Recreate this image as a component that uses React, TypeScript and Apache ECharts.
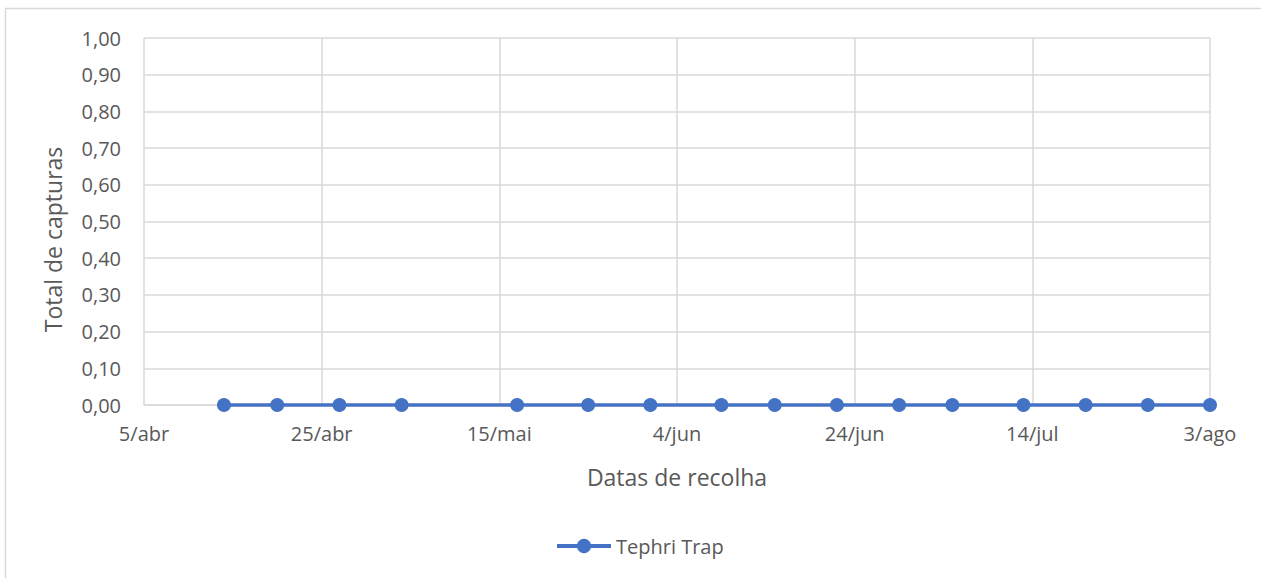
import React, { useEffect, useRef } from "react";
import * as echarts from "echarts";

const axisStart = "2021-04-05";
const axisEnd = "2021-08-03";
const collectionDates = [
  "2021-04-14", "2021-04-20", "2021-04-27", "2021-05-04",
  "2021-05-17", "2021-05-25", "2021-06-01", "2021-06-09",
  "2021-06-15", "2021-06-22", "2021-06-29", "2021-07-05",
  "2021-07-13", "2021-07-20", "2021-07-27", "2021-08-03",
];
const captures = [0, 0, 0, 0, 0, 0, 0, 0, 0, 0, 0, 0, 0, 0, 0, 0];
const monthAbbr = ["jan", "fev", "mar", "abr", "mai", "jun", "jul", "ago", "set", "out", "nov", "dez"];
const seriesName = "Tephri Trap";
const xTitle = "Datas de recolha";
const yTitle = "Total de capturas";

const DAY = 86400000;
const toDays = (s: string) => Math.round((Date.parse(s + "T00:00:00Z") - Date.parse(axisStart + "T00:00:00Z")) / DAY);
const dayLabel = (v: number) => {
  const d = new Date(Date.parse(axisStart + "T00:00:00Z") + v * DAY);
  return `${d.getUTCDate()}/${monthAbbr[d.getUTCMonth()]}`;
};

const FONT = "'Open Sans', sans-serif";
const GREY = "#595959";
const GRID = "#d9d9d9";
const BLUE = "#4472C4";

export default function App() {
  const ref = useRef<HTMLDivElement>(null);
  useEffect(() => {
    if (!ref.current) return;
    const chart = echarts.init(ref.current, null, { renderer: "svg" });
    chart.setOption({
      animation: false,
      backgroundColor: "#ffffff",
      textStyle: { fontFamily: FONT },
      graphic: [
        {
          type: "rect",
          shape: { x: 5.5, y: 8.5, width: 1300, height: 600 },
          style: { fill: "none", stroke: GRID, lineWidth: 1.5 },
          silent: true,
        },
      ],
      grid: { left: 144, right: 51, top: 38, bottom: 173 },
      legend: {
        data: [seriesName],
        left: 555,
        top: 536,
        padding: 0,
        itemWidth: 54,
        itemHeight: 18,
        lineStyle: { width: 4 },
        textStyle: { color: GREY, fontSize: 20, fontFamily: FONT, lineHeight: 20 },
      },
      xAxis: {
        type: "value",
        min: 0,
        max: toDays(axisEnd),
        interval: 20,
        name: xTitle,
        nameLocation: "middle",
        nameGap: 60,
        nameTextStyle: { color: GREY, fontSize: 23, fontFamily: FONT },
        axisLine: { show: true, lineStyle: { color: GRID, width: 1.5 } },
        axisTick: { show: false },
        axisLabel: { color: GREY, fontSize: 20, fontFamily: FONT, margin: 18, formatter: (v: number) => dayLabel(v) },
        splitLine: { show: true, lineStyle: { color: GRID, width: 1.5 } },
      },
      yAxis: {
        type: "value",
        min: 0,
        max: 1,
        interval: 0.1,
        name: yTitle,
        nameLocation: "middle",
        nameGap: 80,
        nameTextStyle: { color: GREY, fontSize: 23, fontFamily: FONT, padding: [0, 36, 0, 0] },
        axisLine: { show: false },
        axisTick: { show: false },
        axisLabel: {
          color: GREY,
          fontSize: 20,
          fontFamily: FONT,
          margin: 23,
          formatter: (v: number) => v.toFixed(2).replace(".", ","),
        },
        splitLine: { show: true, lineStyle: { color: GRID, width: 1.5 } },
      },
      series: [
        {
          name: seriesName,
          type: "line",
          data: collectionDates.map((d, i) => [toDays(d), captures[i]]),
          symbol: "circle",
          symbolSize: 14,
          lineStyle: { color: BLUE, width: 3.5 },
          itemStyle: { color: BLUE },
          clip: false,
        },
      ],
    });
    return () => chart.dispose();
  }, []);
  return <div ref={ref} style={{ position: "absolute", left: 0, top: 0, width: 1261, height: 578 }} />;
}
